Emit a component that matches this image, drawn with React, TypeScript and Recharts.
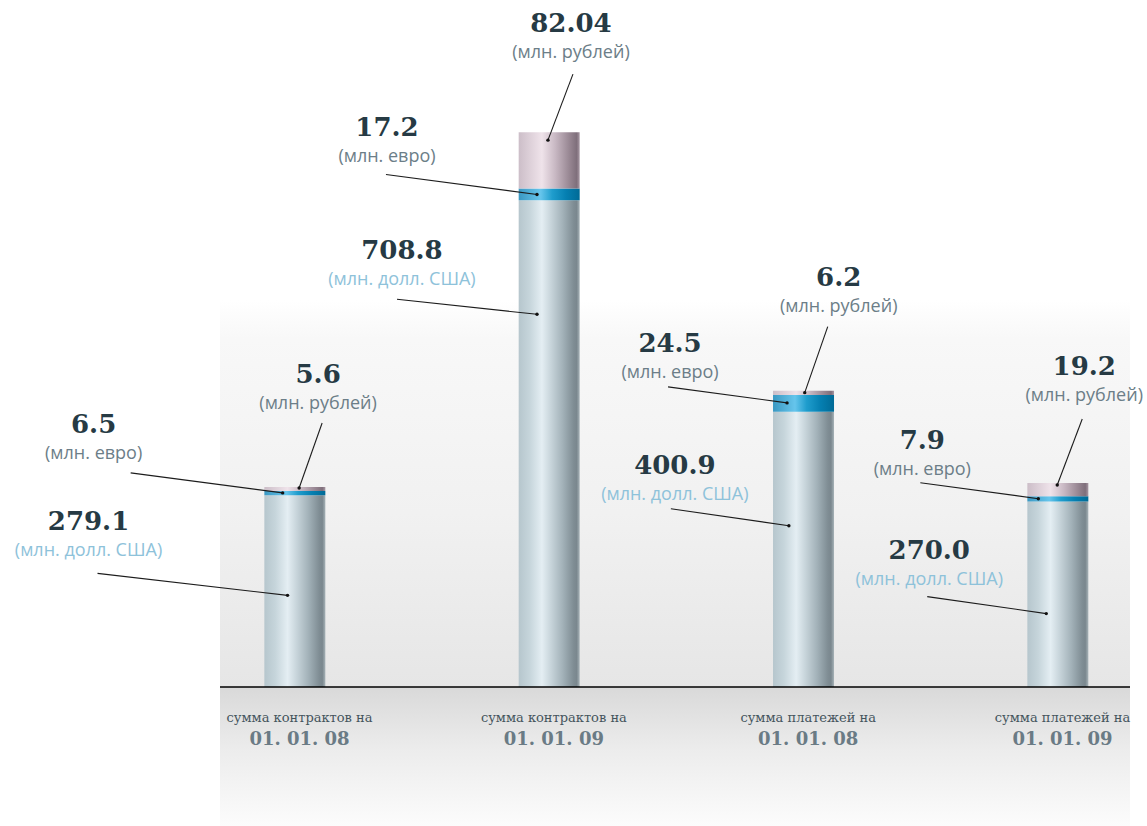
import { BarChart, Bar, XAxis, YAxis, LabelList } from "recharts";

const CATEGORIES = [
	"сумма контрактов на",
	"сумма контрактов на",
	"сумма платежей на",
	"сумма платежей на",
];
const DATES = ["01. 01. 08", "01. 01. 09", "01. 01. 08", "01. 01. 09"];
const USD = [279.1, 708.8, 400.9, 270.0];
const EUR = [6.5, 17.2, 24.5, 7.9];
const RUB = [5.6, 82.04, 6.2, 19.2];
const UNITS: Record<string, string> = {
	usd: "(млн. долл. США)",
	eur: "(млн. евро)",
	rub: "(млн. рублей)",
};
const SERIES: Record<string, number[]> = { usd: USD, eur: EUR, rub: RUB };

const data = CATEGORIES.map((name, i) => ({
	idx: i,
	name,
	date: DATES[i],
	usd: USD[i],
	eur: EUR[i],
	rub: RUB[i],
}));

// callout layout per bar: [dot x frac, dot y from segment top, line dx, line dy, text dx, number baseline dy]
const CALLOUTS: Record<string, number[][]> = {
	usd: [
		[0.38, 100, -190, -22, -9, -43],
		[0.3, 114, -140, -15, 5, -40],
		[0.26, 114, -118, -17, 4, -35],
		[0.31, 112, -119, -17, 2, -38],
	],
	eur: [
		[0.3, 2, -152, -20, -37, -40],
		[0.3, 6, -151, -20, 1, -38],
		[0.23, 8, -119, -16, 2, -35],
		[0.18, 2.5, -118, -16, 2, -34],
	],
	rub: [
		[0.57, 1, 23, -65, -4, -40],
		[0.48, 8, 25, -66, -2, -42],
		[0.52, 2, 23, -66, 11, -41],
		[0.49, 2, 25, -66, 2, -44],
	],
};

const fmt = (v: number) => (Number.isInteger(v) ? v.toFixed(1) : String(v));

function callout(key: string) {
	return (props: any) => {
		const box = props.viewBox ?? props;
		const x = Number(props.x ?? box.x);
		const y = Number(props.y ?? box.y);
		const width = Number(props.width ?? box.width);
		const index = props.index;
		const [fx, fy, dx, dy, tx, ny] = CALLOUTS[key][index];
		const px = x + width * fx;
		const py = y + fy;
		const lx = px + dx;
		const ly = py + dy;
		return (
			<g>
				<line x1={lx} y1={ly} x2={px} y2={py} stroke="#1c1c1c" strokeWidth={1.1} />
				<circle cx={px} cy={py} r={1.7} fill="#111" />
				<text
					x={lx + tx}
					y={ly + ny}
					textAnchor="middle"
					fontFamily="DejaVu Serif"
					fontWeight="bold"
					fontSize={26}
					fill="#263a44"
				>
					{fmt(SERIES[key][index])}
				</text>
				<text
					x={lx + tx}
					y={ly + ny + 26}
					textAnchor="middle"
					fontFamily="Open Sans"
					fontSize={18}
					fill={key === "usd" ? "#8ec2da" : "#6c7e88"}
				>
					{UNITS[key]}
				</text>
			</g>
		);
	};
}

function AxisTick(props: any) {
	const { x, y, payload } = props;
	const i = payload.value;
	return (
		<g>
			<text
				x={x + 5}
				y={y + 35}
				textAnchor="middle"
				fontFamily="DejaVu Serif"
				fontSize={13}
				fill="#45555d"
			>
				{CATEGORIES[i]}
			</text>
			<text
				x={x + 5}
				y={y + 58}
				textAnchor="middle"
				fontFamily="DejaVu Serif"
				fontWeight="bold"
				fontSize={18}
				fill="#6a7b85"
			>
				{DATES[i]}
			</text>
		</g>
	);
}

export default function App() {
	return (
		<div
			style={{
				position: "absolute",
				left: 0,
				top: 0,
				width: 1147,
				height: 826,
				background: "#fff",
			}}
		>
			<div
				style={{
					position: "absolute",
					left: 220,
					width: 910,
					top: 300,
					height: 387,
					background:
						"linear-gradient(to bottom, #ffffff 0%, #f8f8f8 10%, #f1f1f1 55%, #e6e6e6 100%)",
				}}
			/>
			<div
				style={{
					position: "absolute",
					left: 220,
					width: 910,
					top: 687,
					height: 139,
					background: "linear-gradient(to bottom, #d9d9d9 0%, #ececec 45%, #fcfcfc 100%)",
				}}
			/>
			<BarChart
				width={1147}
				height={826}
				data={data}
				margin={{ top: 69, right: 17, bottom: 79, left: 220 }}
				style={{ position: "absolute", left: 0, top: 0 }}
			>
				<defs>
					<linearGradient id="gUsd" x1="0" y1="0" x2="1" y2="0">
						<stop offset="0%" stopColor="#b6c6cd" />
						<stop offset="18%" stopColor="#c6d5db" />
						<stop offset="38%" stopColor="#e4eef3" />
						<stop offset="52%" stopColor="#c9d6dc" />
						<stop offset="72%" stopColor="#a3b2b9" />
						<stop offset="90%" stopColor="#7f8d94" />
						<stop offset="95%" stopColor="#7a878e" />
						<stop offset="100%" stopColor="#a6b2b7" />
					</linearGradient>
					<linearGradient id="gEur" x1="0" y1="0" x2="1" y2="0">
						<stop offset="0%" stopColor="#3a98c2" />
						<stop offset="36%" stopColor="#66c5ec" />
						<stop offset="55%" stopColor="#1f9dcd" />
						<stop offset="78%" stopColor="#057fb1" />
						<stop offset="100%" stopColor="#006a96" />
					</linearGradient>
					<linearGradient id="gRub" x1="0" y1="0" x2="1" y2="0">
						<stop offset="0%" stopColor="#ccbec8" />
						<stop offset="38%" stopColor="#efe3ea" />
						<stop offset="60%" stopColor="#c8b8c3" />
						<stop offset="85%" stopColor="#94838f" />
						<stop offset="95%" stopColor="#7f6f7b" />
						<stop offset="100%" stopColor="#a797a3" />
					</linearGradient>
				</defs>
				<XAxis
					type="number"
					dataKey="idx"
					domain={[-0.293, 3.285]}
					ticks={[0, 1, 2, 3]}
					allowDataOverflow
					height={60}
					tickSize={0}
					tickMargin={0}
					axisLine={{ stroke: "#000", strokeWidth: 1.5 }}
					tickLine={false}
					tick={<AxisTick />}
					interval={0}
				/>
				<YAxis hide domain={[0, 900]} allowDataOverflow />
				<Bar dataKey="usd" stackId="a" barSize={61} fill="url(#gUsd)" isAnimationActive={false}>
					<LabelList dataKey="usd" content={callout("usd")} />
				</Bar>
				<Bar dataKey="eur" stackId="a" barSize={61} fill="url(#gEur)" isAnimationActive={false}>
					<LabelList dataKey="eur" content={callout("eur")} />
				</Bar>
				<Bar dataKey="rub" stackId="a" barSize={61} fill="url(#gRub)" isAnimationActive={false}>
					<LabelList dataKey="rub" content={callout("rub")} />
				</Bar>
			</BarChart>
		</div>
	);
}
